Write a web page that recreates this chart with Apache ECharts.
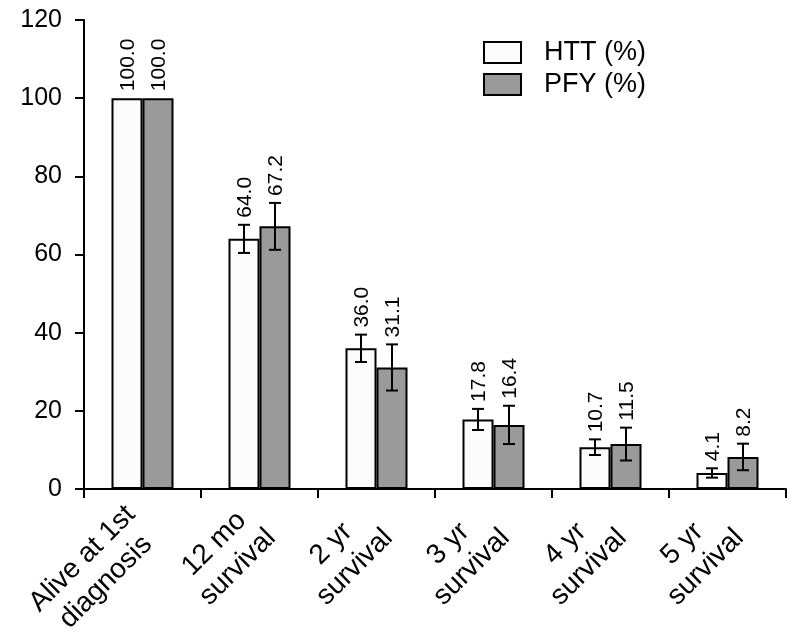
<!DOCTYPE html>
<html>
<head>
<meta charset="utf-8">
<script src="https://cdn.jsdelivr.net/npm/echarts@6/dist/echarts.min.js"></script>
<style>html,body{margin:0;padding:0;background:#fff}#c{width:798px;height:636px}</style>
</head>
<body>
<div id="c"></div>
<script>
var categories = ['Alive at 1st\ndiagnosis', '12 mo\nsurvival', '2 yr\nsurvival', '3 yr\nsurvival', '4 yr\nsurvival', '5 yr\nsurvival'];
var seriesNames = ['HTT (%)', 'PFY (%)'];
var htt = [100.0, 64.0, 36.0, 17.8, 10.7, 4.1];
var pfy = [100.0, 67.2, 31.1, 16.4, 11.5, 8.2];
var httErr = [0, 3.6, 3.5, 2.7, 2.0, 1.2];
var pfyErr = [0, 6.0, 5.9, 4.9, 4.2, 3.4];
var yTicks = [0, 20, 40, 60, 80, 100, 120];

var FONT = '"Liberation Sans", Arial, sans-serif';
var BAR_W = 31;

function errData(vals, errs) {
  return vals.map(function (v, i) { return [i, v, errs[i]]; });
}
function makeRender(offset) {
  return function (params, api) {
    var i = api.value(0), v = api.value(1), e = api.value(2);
    var c = api.coord([i, v]);
    var x = c[0] + offset;
    var children = [];
    var topY = c[1];
    if (e > 0) {
      var t = api.coord([i, v + e])[1];
      var b = api.coord([i, v - e])[1];
      topY = t;
      var st = { stroke: '#000', lineWidth: 2 };
      children.push({ type: 'line', shape: { x1: x, y1: t, x2: x, y2: b }, style: st });
      children.push({ type: 'line', shape: { x1: x - 6, y1: t, x2: x + 6, y2: t }, style: st });
      children.push({ type: 'line', shape: { x1: x - 6, y1: b, x2: x + 6, y2: b }, style: st });
    }
    children.push({
      type: 'text', x: x + 1, y: topY - 7, rotation: Math.PI / 2,
      style: { text: v.toFixed(1), fontSize: 21, fontFamily: FONT, fill: '#000', align: 'left', verticalAlign: 'middle' }
    });
    return { type: 'group', children: children };
  };
}

var chart = echarts.init(document.getElementById('c'), null, { renderer: 'canvas' });
chart.setOption({
  animation: false,
  backgroundColor: '#fff',
  grid: { left: 84, right: 12, top: 20, bottom: 147, containLabel: false, outerBoundsMode: 'none' },
  legend: {
    data: seriesNames,
    orient: 'vertical', left: 478, top: 34,
    itemWidth: 37, itemHeight: 21, itemGap: 5,
    textStyle: { fontSize: 27, fontFamily: FONT, color: '#000', padding: [0, 0, 0, 18] },
    icon: 'rect'
  },
  xAxis: {
    type: 'category', data: categories,
    axisLine: { lineStyle: { color: '#000', width: 2 } },
    axisTick: { show: true, length: 9, lineStyle: { color: '#000', width: 2 } },
    axisLabel: {
      interval: 0, rotate: 45, margin: 33, color: '#000', fontSize: 28, fontFamily: FONT,
      formatter: function (v) { return v.split('\n').map(function (s) { return '{a|' + s + '}'; }).join('\n'); },
      rich: { a: { fontSize: 28, fontFamily: FONT, color: '#000', align: 'center', lineHeight: 33 } }
    }
  },
  yAxis: {
    type: 'value', min: 0, max: 120, interval: 20,
    splitLine: { show: false },
    axisLine: { show: true, lineStyle: { color: '#000', width: 2 } },
    axisTick: { show: true, length: 9, lineStyle: { color: '#000', width: 2 } },
    axisLabel: { margin: 22, color: '#000', fontSize: 25, fontFamily: FONT,
      formatter: function (v) { return yTicks.indexOf(v) >= 0 ? String(v) : ''; } }
  },
  series: [
    { name: seriesNames[0], type: 'bar', data: htt, barWidth: BAR_W, barGap: '0%',
      itemStyle: { color: '#fcfcfc', borderColor: '#000', borderWidth: 2 } },
    { name: seriesNames[1], type: 'bar', data: pfy, barWidth: BAR_W, barGap: '0%',
      itemStyle: { color: '#9a9a9a', borderColor: '#000', borderWidth: 2 } },
    { type: 'custom', data: errData(htt, httErr), renderItem: makeRender(-BAR_W / 2), z: 5 },
    { type: 'custom', data: errData(pfy, pfyErr), renderItem: makeRender(BAR_W / 2), z: 5 }
  ]
});
</script>
</body>
</html>
